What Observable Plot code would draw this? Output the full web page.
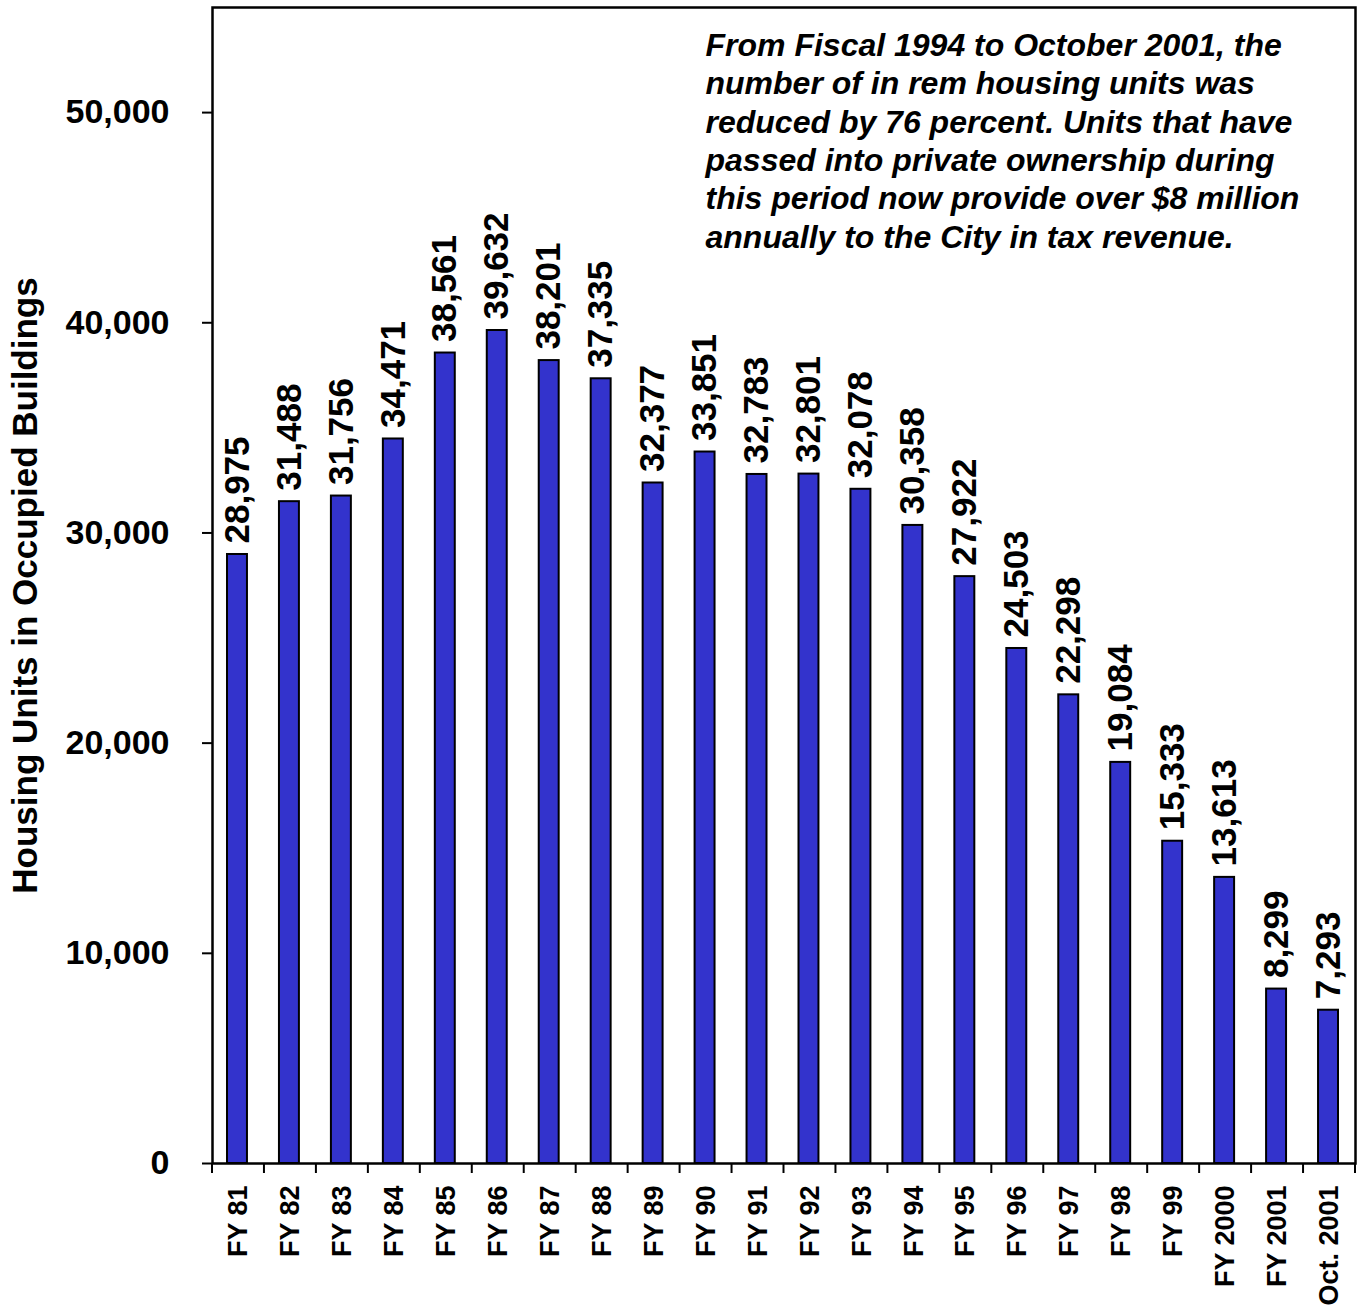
<!DOCTYPE html>
<html><head><meta charset="utf-8">
<script src="https://cdn.jsdelivr.net/npm/d3@7"></script>
<script src="https://cdn.jsdelivr.net/npm/@observablehq/plot@0.6"></script>
<style>body{margin:0;background:#fff}</style>
</head><body><div id="chart"></div>
<script>
const categories = ["FY 81","FY 82","FY 83","FY 84","FY 85","FY 86","FY 87","FY 88","FY 89","FY 90","FY 91","FY 92","FY 93","FY 94","FY 95","FY 96","FY 97","FY 98","FY 99","FY 2000","FY 2001","Oct. 2001"];
const units = [28975,31488,31756,34471,38561,39632,38201,37335,32377,33851,32783,32801,32078,30358,27922,24503,22298,19084,15333,13613,8299,7293];
const yTicks = [0,10000,20000,30000,40000,50000];
const yTitle = "Housing Units in Occupied Buildings";
const noteLines = [
  "From Fiscal 1994 to October 2001, the",
  "number of in rem housing units was",
  "reduced by 76 percent. Units that have",
  "passed into private ownership during",
  "this period now provide over $8 million",
  "annually to the City in tax revenue."
];

const data = categories.map((c, i) => ({cat: c, value: units[i]}));
const fmt = d3.format(",");
const FONT = "'Liberation Sans', Arial, Helvetica, sans-serif";

const plot = Plot.plot({
  width: 1359, height: 1308,
  marginLeft: 212, marginRight: 4, marginTop: 7, marginBottom: 145,
  style: {fontFamily: FONT, fontWeight: "bold", color: "black", background: "white"},
  x: {domain: categories, padding: 0, round: false},
  y: {domain: [0, 55000]},
  marks: [
    Plot.barY(data, {x: "cat", y: "value", fill: "#3333CC", stroke: "black", strokeWidth: 2, insetLeft: 15, insetRight: 17}),
    Plot.text(data, {x: "cat", y: "value", text: d => fmt(d.value), rotate: -90, textAnchor: "start", dx: -1, dy: -11, fontSize: 35, fontWeight: "bold", fill: "black"}),
    Plot.axisY({ticks: yTicks, tickFormat: fmt, tickSize: 10, tickPadding: 33, fontSize: 34, fontWeight: "bold", strokeWidth: 2, label: null}),
    Plot.axisX({tickSize: 0, tickRotate: -90, tickPadding: 22, fontSize: 27, fontWeight: "bold", label: null}),
    Plot.text([yTitle], {frameAnchor: "left", textAnchor: "middle", rotate: -90, dx: -187, fontSize: 35, fontWeight: "bold", fill: "black"}),
    Plot.text([noteLines.join("\n")], {frameAnchor: "top-left", dx: 493, dy: 21, textAnchor: "start", lineAnchor: "top", lineHeight: 1.2, fontSize: 32, fontWeight: "bold", fontStyle: "italic", fill: "black"}),
    Plot.frame({stroke: "black", strokeWidth: 2.5})
  ]
});

// x ticks at band boundaries, positioned via the plot's own x and y scales
const xs = plot.scale("x");
const ys = plot.scale("y");
const step = xs.step !== undefined ? xs.step : (xs.apply(categories[1]) - xs.apply(categories[0]));
const bounds = categories.map(c => xs.apply(c));
bounds.push(xs.apply(categories[categories.length - 1]) + step);
const y0 = ys.apply(0);
d3.select(plot).append("g")
  .attr("stroke", "black").attr("stroke-width", 2)
  .selectAll("line").data(bounds).join("line")
  .attr("x1", d => d).attr("x2", d => d)
  .attr("y1", y0).attr("y2", y0 + 10);

document.getElementById("chart").append(plot);
</script>
</body></html>
